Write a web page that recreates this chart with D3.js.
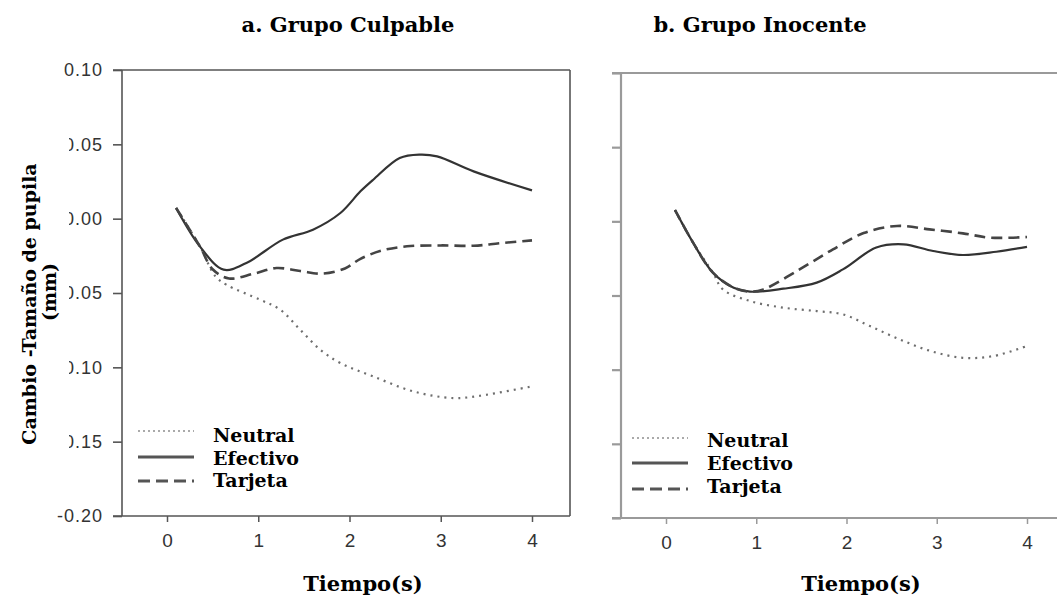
<!DOCTYPE html>
<html>
<head>
<meta charset="utf-8">
<script src="https://cdn.jsdelivr.net/npm/d3@7"></script>
<style>
  body { margin: 0; background: #fff; }
  .tick text { font-family: "Liberation Sans", Arial, sans-serif; fill: #333; }
  .lbl { font-family: "DejaVu Serif", serif; font-weight: bold; fill: #000; }
</style>
</head>
<body>
<script>
// tick values
var xTicks = [0, 1, 2, 3, 4];
var yTicks = [0.10, 0.05, 0.00, -0.05, -0.10, -0.15, -0.20];
var seriesNames = ["Neutral", "Efectivo", "Tarjeta"];

// a. Grupo Culpable
var neutralA_t = [0.1, 0.36, 0.53, 0.65, 1.02, 1.24, 1.46, 1.68, 1.9, 2.26, 2.7, 3.14, 3.43, 4.0];
var neutralA_v = [0.0072, -0.0186, -0.0388, -0.0444, -0.0545, -0.0612, -0.0747, -0.0882, -0.0971, -0.1061, -0.1162, -0.1207, -0.1191, -0.1128];
var efectivoA_t = [0.1, 0.36, 0.62, 0.87, 1.27, 1.6, 1.9, 2.12, 2.26, 2.55, 2.77, 2.96, 3.36, 4.0];
var efectivoA_v = [0.0072, -0.0186, -0.0343, -0.0298, -0.0141, -0.0074, 0.0038, 0.0184, 0.0262, 0.0408, 0.0431, 0.0419, 0.0318, 0.019];
var tarjetaA_t = [0.1, 0.36, 0.5, 0.68, 0.95, 1.2, 1.46, 1.7, 1.95, 2.12, 2.35, 2.63, 3.0, 3.36, 3.65, 4.0];
var tarjetaA_v = [0.0072, -0.0186, -0.034, -0.0402, -0.037, -0.0332, -0.0352, -0.037, -0.0335, -0.027, -0.0215, -0.0186, -0.018, -0.0182, -0.0165, -0.0146];

// b. Grupo Inocente
var neutralB_t = [0.1, 0.3, 0.52, 0.63, 0.93, 1.3, 1.67, 1.96, 2.26, 2.59, 2.93, 3.29, 3.63, 4.0];
var neutralB_v = [0.0076, -0.0144, -0.0346, -0.0459, -0.0537, -0.0582, -0.0605, -0.0627, -0.0706, -0.0796, -0.0874, -0.092, -0.0908, -0.084];
var efectivoB_t = [0.1, 0.3, 0.52, 0.75, 0.93, 1.3, 1.67, 1.96, 2.33, 2.63, 2.96, 3.29, 3.66, 4.0];
var efectivoB_v = [0.0076, -0.0144, -0.0346, -0.0447, -0.0474, -0.0454, -0.0413, -0.0324, -0.0177, -0.0155, -0.02, -0.0227, -0.0205, -0.0172];
var tarjetaB_t = [0.1, 0.3, 0.52, 0.75, 0.93, 1.08, 1.48, 1.85, 2.19, 2.56, 2.92, 3.29, 3.59, 4.0];
var tarjetaB_v = [0.0076, -0.0144, -0.0346, -0.0447, -0.0474, -0.0459, -0.0324, -0.0189, -0.0079, -0.0031, -0.0054, -0.0081, -0.011, -0.0106];

var styles = [
    { stroke: "#6e6e6e", width: 2.2, dash: "2,5" },   // Neutral
    { stroke: "#333", width: 2.2, dash: null },       // Efectivo
    { stroke: "#444", width: 2.6, dash: "11,6" }      // Tarjeta
];
var legendStyles = [
    { stroke: "#aaa", width: 2, dash: "2,3" },
    { stroke: "#555", width: 3, dash: null },
    { stroke: "#555", width: 3, dash: "12,6" }
];

function zip(t, v) {
    return t.map(function (d, i) { return { t: d, v: v[i] }; });
}

var svg = d3.select("body").append("svg")
    .attr("width", 1057)
    .attr("height", 600);

svg.append("rect").attr("width", 1057).attr("height", 600).attr("fill", "#fff");

function drawPanel(p) {
    var x = d3.scaleLinear().domain([0, 4]).range([p.x0, p.x4]);
    var y = d3.scaleLinear().domain([-0.20, 0.10]).range([p.bottom, p.top]);
    var g = svg.append("g");

    // frame
    var frame = g.append("g").attr("stroke", p.axisColor).attr("stroke-width", p.axisWidth).attr("fill", "none");
    frame.append("line").attr("x1", p.left - 9).attr("x2", p.right).attr("y1", p.top).attr("y2", p.top);
    frame.append("line").attr("x1", p.left - 9).attr("x2", p.right).attr("y1", p.bottom).attr("y2", p.bottom);
    frame.append("line").attr("x1", p.left).attr("x2", p.left).attr("y1", p.top).attr("y2", p.bottom);
    if (p.right < 1057) {
        frame.append("line").attr("x1", p.right).attr("x2", p.right).attr("y1", p.top).attr("y2", p.bottom);
    }

    // y axis
    var yAxis = d3.axisLeft(y)
        .tickValues(yTicks)
        .tickSize(9)
        .tickPadding(10)
        .tickFormat(function (d) { return p.yLabels ? d.toFixed(2) : ""; });
    var gY = g.append("g")
        .attr("transform", "translate(" + p.left + ",0)")
        .call(yAxis);
    gY.select(".domain").remove();
    gY.selectAll(".tick line").attr("stroke", p.axisColor).attr("stroke-width", p.axisWidth);
    gY.selectAll(".tick text").style("font-size", "18px").style("letter-spacing", "1px");

    // x axis
    var xAxis = d3.axisBottom(x)
        .tickValues(xTicks)
        .tickSize(6)
        .tickPadding(12)
        .tickFormat(d3.format("d"));
    var gX = g.append("g")
        .attr("transform", "translate(0," + p.bottom + ")")
        .call(xAxis);
    gX.select(".domain").remove();
    gX.selectAll(".tick line").attr("stroke", p.axisColor).attr("stroke-width", 1.5);
    gX.selectAll(".tick text").style("font-size", "19px");

    // lines
    var line = d3.line()
        .x(function (d) { return x(d.t); })
        .y(function (d) { return y(d.v); })
        .curve(d3.curveCatmullRom.alpha(0.5));

    p.series.forEach(function (s, i) {
        g.append("path")
            .datum(s)
            .attr("fill", "none")
            .attr("stroke", styles[i].stroke)
            .attr("stroke-width", styles[i].width)
            .attr("stroke-dasharray", styles[i].dash)
            .attr("d", line);
    });

    // legend
    var leg = g.append("g");
    seriesNames.forEach(function (name, i) {
        leg.append("line")
            .attr("x1", p.legX).attr("x2", p.legX + 56)
            .attr("y1", p.legY[i]).attr("y2", p.legY[i])
            .attr("stroke", legendStyles[i].stroke)
            .attr("stroke-width", legendStyles[i].width)
            .attr("stroke-dasharray", legendStyles[i].dash);
        leg.append("text")
            .attr("class", "lbl")
            .attr("x", p.legX + 75)
            .attr("y", p.legBase[i])
            .style("font-size", "19px")
            .text(name);
    });

    // titles
    g.append("text")
        .attr("class", "lbl")
        .attr("x", p.titleX)
        .attr("y", 32)
        .attr("text-anchor", "middle")
        .style("font-size", "21px")
        .text(p.title);
    g.append("text")
        .attr("class", "lbl")
        .attr("x", p.xTitleX)
        .attr("y", 591)
        .attr("text-anchor", "middle")
        .style("font-size", "21px")
        .text("Tiempo(s)");
}

drawPanel({
    x0: 167, x4: 532, left: 122, right: 570, top: 70, bottom: 516,
    axisColor: "#555", axisWidth: 1.6, yLabels: true,
    series: [zip(neutralA_t, neutralA_v), zip(efectivoA_t, efectivoA_v), zip(tarjetaA_t, tarjetaA_v)],
    legX: 138, legY: [431, 457, 481], legBase: [442, 465, 487],
    title: "a. Grupo Culpable", titleX: 348, xTitleX: 363
});

drawPanel({
    x0: 666, x4: 1027, left: 621, right: 1060, top: 73, bottom: 518,
    axisColor: "#9a9a9a", axisWidth: 2.2, yLabels: false,
    series: [zip(neutralB_t, neutralB_v), zip(efectivoB_t, efectivoB_v), zip(tarjetaB_t, tarjetaB_v)],
    legX: 632, legY: [438, 463, 489], legBase: [447, 470, 493],
    title: "b. Grupo Inocente", titleX: 760, xTitleX: 861
});

// white box behind the y title (it hides the left part of the tick labels)
svg.append("rect")
    .attr("x", 0).attr("y", 84)
    .attr("width", 69).attr("height", 376)
    .attr("fill", "#fff");

svg.append("text")
    .attr("class", "lbl")
    .attr("transform", "translate(36,304) rotate(-90)")
    .attr("text-anchor", "middle")
    .style("font-size", "19px")
    .text("Cambio -Tamaño de pupila");
svg.append("text")
    .attr("class", "lbl")
    .attr("transform", "translate(56,292) rotate(-90)")
    .attr("text-anchor", "middle")
    .style("font-size", "19px")
    .text("(mm)");
</script>
</body>
</html>
